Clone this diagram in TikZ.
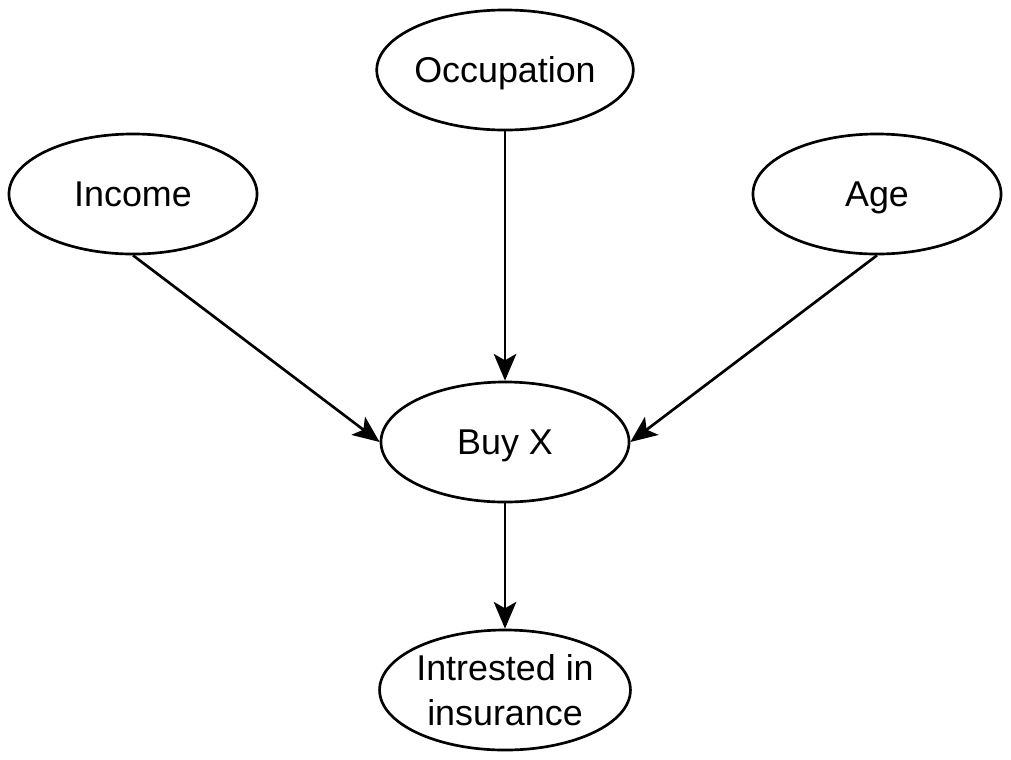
\documentclass[tikz,border=0pt]{standalone}
\usepackage{fontspec}
\setmainfont{Liberation Sans}
\usetikzlibrary{arrows.meta,positioning,shapes.geometric}

\begin{document}
\begin{tikzpicture}[
    x=0.025cm, y=-0.025cm,
    var/.style={draw, ellipse, line width=1.9pt, minimum width=6.2cm, minimum height=3.0cm, inner sep=0pt, align=center, font=\fontsize{25.5}{32}\selectfont},
    oneline/.style={text height=18.3pt, text depth=0pt},
    arrow/.style={-{Stealth[length=19pt, width=16pt, inset=4.5pt]}, line width=1.9pt}
]
\useasboundingbox (0,0) rectangle (1011,759);

\node[var, oneline] (occ) at (505, 70) {Occupation};
\node[var, oneline] (inc) at (133, 194) {Income};
\node[var, oneline] (age) at (877, 194) {Age};
\node[var, oneline] (buy) at (505, 442) {Buy X};
\node[var] (ins) at (505, 690) {Intrested in\\insurance};

\draw[arrow] (occ.south) -- (buy.north);
\draw[arrow] (inc.south) -- (buy.west);
\draw[arrow] (age.south) -- (buy.east);
\draw[arrow] (buy.south) -- (ins.north);
\end{tikzpicture}
\end{document}
